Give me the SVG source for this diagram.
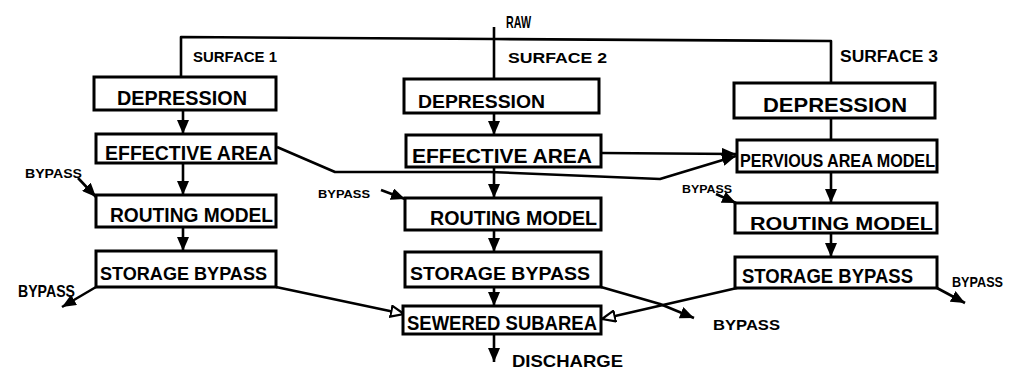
<svg xmlns="http://www.w3.org/2000/svg" width="1017" height="369" viewBox="0 0 1017 369">
<style>
.box{fill:#fff;stroke:#000;stroke-width:3}
.ln{fill:none;stroke:#000;stroke-width:2.6;stroke-linejoin:round}
.t{font-family:"Liberation Sans",Arial,sans-serif;font-weight:bold;fill:#000}
</style>
<defs>
<marker id="arr" viewBox="0 0 14 12" refX="14" refY="6" markerWidth="14" markerHeight="12" markerUnits="userSpaceOnUse" orient="auto"><path d="M0,0 L14,6 L0,12 z" fill="#000"/></marker>
<marker id="arro" viewBox="0 0 15 13" refX="14" refY="6.5" markerWidth="15" markerHeight="13" markerUnits="userSpaceOnUse" orient="auto"><path d="M1,1 L14,6.5 L1,12 z" fill="#fff" stroke="#000" stroke-width="2.2"/></marker>
</defs>
<rect width="1017" height="369" fill="#fff"/>
<g id="connectors">
<path class="ln" d="M494,27 L494,79"/>
<path class="ln" d="M181,77 L181,37 L494,39 L831,41 L831,83"/>
<path class="ln" d="M183,110 L183,134" marker-end="url(#arr)"/>
<path class="ln" d="M183,163 L183,195" marker-end="url(#arr)"/>
<path class="ln" d="M183,227 L183,251" marker-end="url(#arr)"/>
<path class="ln" d="M494,113 L494,135" marker-end="url(#arr)"/>
<path class="ln" d="M494,167 L494,198" marker-end="url(#arr)"/>
<path class="ln" d="M494,230 L494,252" marker-end="url(#arr)"/>
<path class="ln" d="M494,287 L494,306" marker-end="url(#arr)"/>
<path class="ln" d="M494,334 L494,362" marker-end="url(#arr)"/>
<path class="ln" d="M831,118 L831,140"/>
<path class="ln" d="M831,172 L831,203" marker-end="url(#arr)"/>
<path class="ln" d="M831,233 L831,257" marker-end="url(#arr)"/>
<path class="ln" d="M601,153 L736,154" marker-end="url(#arr)"/>
<path class="ln" d="M277,147 L335,172 L490,172 L660,179 L736,156" marker-end="url(#arr)"/>
<path class="ln" d="M78,178 L96,197" marker-end="url(#arr)"/>
<path class="ln" d="M96,287 L62,307" marker-end="url(#arr)"/>
<path class="ln" d="M381,190 L405,199" marker-end="url(#arr)"/>
<path class="ln" d="M716,194 L736,203" marker-end="url(#arr)"/>
<path class="ln" d="M937,288 L965,303" marker-end="url(#arr)"/>
<path class="ln" d="M601,287 L660,304 L694,318" marker-end="url(#arr)"/>
<path class="ln" d="M276,287 L404,314" marker-end="url(#arro)"/>
<path class="ln" d="M737,288 L602,319" marker-end="url(#arro)"/>
</g>
<g id="labels">
<text class="t" x="506" y="28" font-size="17" textLength="25" lengthAdjust="spacingAndGlyphs">RAW</text>
<text class="t" x="193" y="62" font-size="15" textLength="84" lengthAdjust="spacingAndGlyphs">SURFACE 1</text>
<text class="t" x="508" y="63" font-size="15" textLength="99" lengthAdjust="spacingAndGlyphs">SURFACE 2</text>
<text class="t" x="840" y="62" font-size="16" textLength="98" lengthAdjust="spacingAndGlyphs">SURFACE 3</text>
<text class="t" x="512" y="367" font-size="17" textLength="111" lengthAdjust="spacingAndGlyphs">DISCHARGE</text>
<text class="t" x="25" y="178" font-size="13" textLength="57" lengthAdjust="spacingAndGlyphs">BYPASS</text>
<text class="t" x="18" y="297" font-size="17" textLength="57" lengthAdjust="spacingAndGlyphs">BYPASS</text>
<text class="t" x="318" y="198" font-size="11" textLength="52" lengthAdjust="spacingAndGlyphs">BYPASS</text>
<text class="t" x="682" y="193" font-size="11" textLength="50" lengthAdjust="spacingAndGlyphs">BYPASS</text>
<text class="t" x="952" y="287" font-size="15" textLength="51" lengthAdjust="spacingAndGlyphs">BYPASS</text>
<text class="t" x="713" y="330" font-size="15" textLength="67" lengthAdjust="spacingAndGlyphs">BYPASS</text>
</g>
<g id="dep1"><rect class="box" x="94" y="77" width="182" height="33"/><text class="t" x="117" y="105" font-size="20" textLength="130" lengthAdjust="spacingAndGlyphs">DEPRESSION</text></g>
<g id="eff1"><rect class="box" x="96" y="134" width="180" height="29"/><text class="t" x="105" y="160" font-size="20" textLength="167" lengthAdjust="spacingAndGlyphs">EFFECTIVE AREA</text></g>
<g id="rout1"><rect class="box" x="96" y="195" width="180" height="32"/><text class="t" x="110" y="222" font-size="20" textLength="163" lengthAdjust="spacingAndGlyphs">ROUTING MODEL</text></g>
<g id="stor1"><rect class="box" x="96" y="251" width="180" height="36"/><text class="t" x="100" y="280" font-size="19" textLength="167" lengthAdjust="spacingAndGlyphs">STORAGE BYPASS</text></g>
<g id="dep2"><rect class="box" x="404" y="79" width="195" height="34"/><text class="t" x="418" y="108" font-size="19" textLength="127" lengthAdjust="spacingAndGlyphs">DEPRESSION</text></g>
<g id="eff2"><rect class="box" x="406" y="135" width="195" height="32"/><text class="t" x="412" y="163" font-size="20" textLength="180" lengthAdjust="spacingAndGlyphs">EFFECTIVE AREA</text></g>
<g id="rout2"><rect class="box" x="405" y="198" width="196" height="32"/><text class="t" x="430" y="225" font-size="20" textLength="167" lengthAdjust="spacingAndGlyphs">ROUTING MODEL</text></g>
<g id="stor2"><rect class="box" x="405" y="252" width="196" height="35"/><text class="t" x="410" y="280" font-size="19" textLength="180" lengthAdjust="spacingAndGlyphs">STORAGE BYPASS</text></g>
<g id="sewered"><rect class="box" x="403" y="306" width="198" height="28"/><text class="t" x="407" y="330" font-size="20" textLength="190" lengthAdjust="spacingAndGlyphs">SEWERED SUBAREA</text></g>
<g id="dep3"><rect class="box" x="734" y="83" width="201" height="35"/><text class="t" x="763" y="112" font-size="20" textLength="144" lengthAdjust="spacingAndGlyphs">DEPRESSION</text></g>
<g id="perv"><rect class="box" x="737" y="140" width="200" height="32"/><text class="t" x="740" y="167" font-size="18" textLength="195" lengthAdjust="spacingAndGlyphs">PERVIOUS AREA MODEL</text></g>
<g id="rout3"><rect class="box" x="735" y="203" width="202" height="30"/><text class="t" x="750" y="230" font-size="19" textLength="183" lengthAdjust="spacingAndGlyphs">ROUTING MODEL</text></g>
<g id="stor3"><rect class="box" x="735" y="257" width="202" height="31"/><text class="t" x="742" y="283" font-size="20" textLength="171" lengthAdjust="spacingAndGlyphs">STORAGE BYPASS</text></g>
</svg>
